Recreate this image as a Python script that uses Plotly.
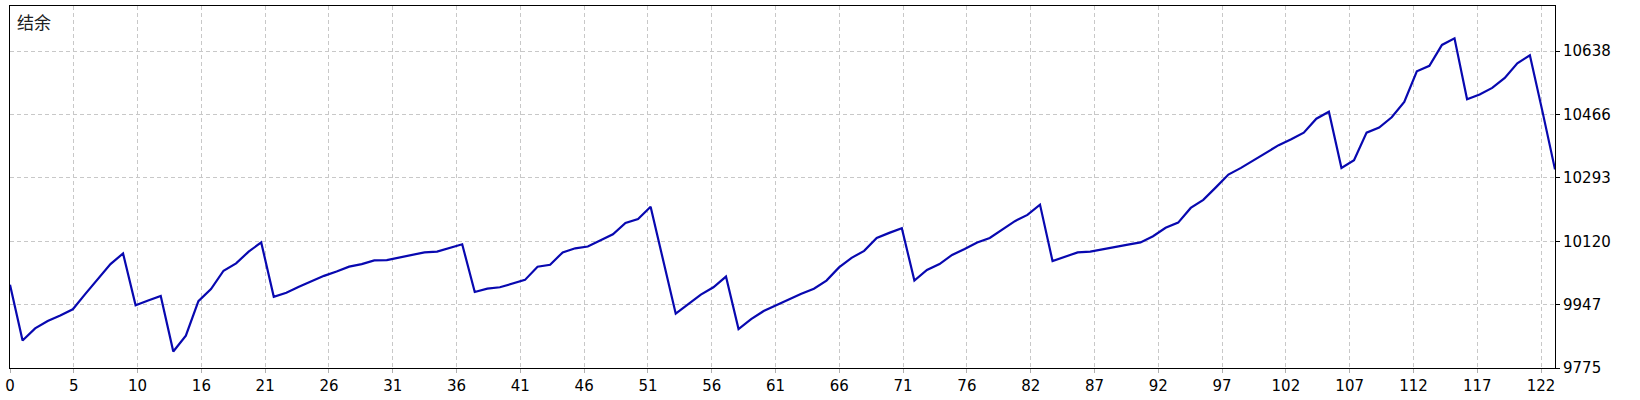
import plotly.graph_objects as go

# Balance values (结余), one per trade index
balance = [
    10002, 9850, 9883, 9903, 9918, 9935, 9977, 10018, 10058, 10087,
    9946, 9959, 9971, 9820, 9863, 9957, 9990, 10040, 10060, 10092,
    10117, 9969, 9980, 9996, 10011, 10026, 10038, 10051, 10058, 10068,
    10069, 10076, 10082, 10090, 10092, 10101, 10112, 9982, 9991, 9995,
    10006, 10015, 10051, 10056, 10090, 10101, 10106, 10123, 10139, 10170,
    10181, 10214, 10066, 9923, 9949, 9975, 9995, 10024, 9881, 9908,
    9930, 9946, 9961, 9977, 9991, 10013, 10049, 10075, 10094, 10129,
    10143, 10156, 10013, 10042, 10058, 10083, 10099, 10117, 10129, 10153,
    10175, 10192, 10220, 10066, 10078, 10090, 10092, 10099, 10105, 10111,
    10117, 10134, 10157, 10171, 10211, 10233, 10267, 10302, 10320, 10340,
    10361, 10382, 10398, 10416, 10454, 10473, 10320, 10341, 10416, 10430,
    10458, 10500, 10583, 10598, 10655, 10673, 10507, 10520, 10538, 10565,
    10605, 10627, 10474, 10316,
]
trade_index = list(range(len(balance)))

x_tick_labels = ["0", "5", "10", "16", "21", "26", "31", "36", "41", "46", "51",
                 "56", "61", "66", "71", "76", "82", "87", "92", "97", "102",
                 "107", "112", "117", "122"]
y_tick_values = [9775, 9947, 10120, 10293, 10466, 10638]
y_tick_labels = ["9775", "9947", "10120", "10293", "10466", "10638"]
title_text = "结余"

x_grid_step = 5.0787  # data units between vertical grid lines
x_tick_values = [k * x_grid_step for k in range(len(x_tick_labels))]

fig = go.Figure()
fig.add_trace(go.Scatter(
    x=trade_index, y=balance, mode="lines",
    line=dict(color="#0808b0", width=2.2),
    hoverinfo="skip", showlegend=False,
))

font_main = dict(family="DejaVu Sans", size=15, color="#000000")

fig.update_layout(
    width=1640, height=400,
    margin=dict(l=5, r=85, t=5, b=29),
    paper_bgcolor="white", plot_bgcolor="white",
    font=font_main,
    xaxis=dict(
        range=[0, len(balance) - 1],
        tickmode="array", tickvals=x_tick_values, ticktext=x_tick_labels,
        showgrid=True, gridcolor="#c8c8c8", griddash="4px,3px", gridwidth=1,
        showline=True, linecolor="#000000", linewidth=1, mirror=True,
        ticks="outside", ticklen=4, tickcolor="#b0b0b0",
        zeroline=False, tickfont=font_main,
    ),
    yaxis=dict(
        range=[9775, 10761], side="right",
        tickmode="array", tickvals=y_tick_values, ticktext=y_tick_labels,
        showgrid=True, gridcolor="#c8c8c8", griddash="4px,3px", gridwidth=1,
        showline=True, linecolor="#000000", linewidth=1, mirror=True,
        ticks="outside", ticklen=4, tickcolor="#000000",
        zeroline=False, tickfont=font_main,
    ),
    annotations=[dict(
        text=title_text, xref="paper", yref="paper", x=0, y=1,
        xanchor="left", yanchor="top", xshift=5, yshift=-1, showarrow=False,
        font=dict(family="Noto Sans CJK SC", size=17, color="#202020"),
    )],
)

fig.write_html(
    "out.html",
    config={"displayModeBar": False},
    post_script="document.body.style.margin='0';document.body.style.padding='0';"
                "document.body.style.overflow='hidden';",
)
